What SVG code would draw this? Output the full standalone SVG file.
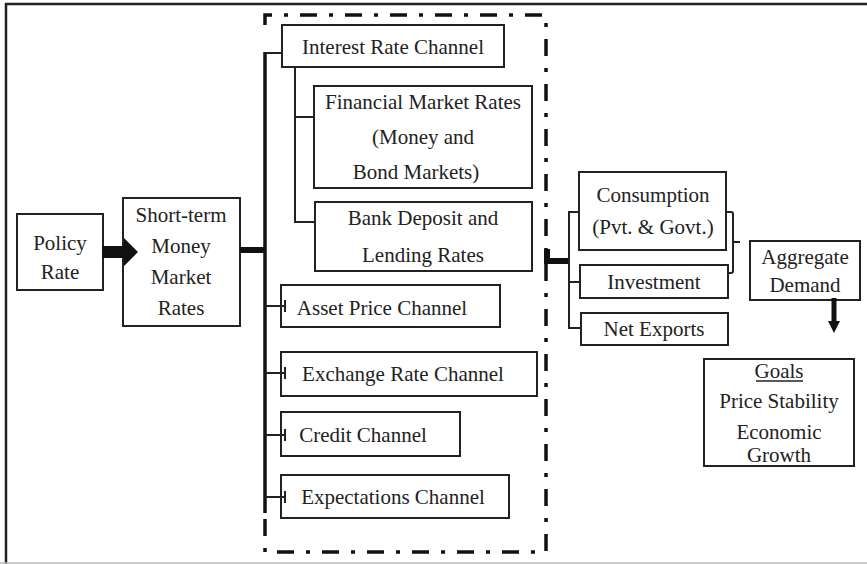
<svg xmlns="http://www.w3.org/2000/svg" width="867" height="564" viewBox="0 0 867 564">
  <style>
    .box { fill: #fff; stroke: #222; stroke-width: 2; }
    .ln { fill: none; stroke: #222; stroke-width: 2; }
    .bus { fill: none; stroke: #111; stroke-width: 3.5; }
    .thick { fill: none; stroke: #111; stroke-width: 6; }
    .dashdot { fill: none; stroke: #111; stroke-width: 3.5; stroke-dasharray: 17 12 4 12; }
  </style>
  <rect x="0" y="0" width="867" height="564" fill="#fff"/>
  <!-- outer frame -->
  <path d="M6 564 V4 H867" fill="none" stroke="#222" stroke-width="2.5"/>
  <line x1="0" y1="563" x2="867" y2="563" stroke="#bbb" stroke-width="1.5"/>

  <!-- transmission-channel enclosure -->
  <path class="dashdot" d="M265 25 V15 H546 V552 H265 V515"/>

  <g font-family="'Liberation Serif', 'Times New Roman', 'DejaVu Serif', serif" font-size="21" fill="#222" text-anchor="middle">
  <g id="policy-rate">
    <rect class="box" x="17" y="214" width="86" height="76"/>
    <text x="60" y="250">Policy</text>
    <text x="60" y="279">Rate</text>
  </g>

  <g id="money-market">
    <rect class="box" x="123" y="198" width="117" height="128"/>
    <text x="181" y="222">Short-term</text>
    <text x="181" y="253">Money</text>
    <text x="181" y="284">Market</text>
    <text x="181" y="315">Rates</text>
  </g>

  <g id="interest-rate">
    <rect class="box" x="282" y="25" width="222" height="42"/>
    <text x="393" y="54">Interest Rate Channel</text>
  </g>

  <g id="financial-market">
    <rect class="box" x="314" y="86" width="218" height="102"/>
    <text x="423" y="109">Financial Market Rates</text>
    <text x="423" y="144">(Money and</text>
    <text x="416" y="179">Bond Markets)</text>
  </g>

  <g id="bank-rates">
    <rect class="box" x="315" y="202" width="217" height="69"/>
    <text x="423" y="225">Bank Deposit and</text>
    <text x="423" y="262">Lending Rates</text>
  </g>

  <g id="asset-price">
    <rect class="box" x="281" y="285" width="219" height="42"/>
    <text x="382" y="315">Asset Price Channel</text>
  </g>

  <g id="exchange-rate">
    <rect class="box" x="281" y="352" width="256" height="44"/>
    <text x="403" y="381">Exchange Rate Channel</text>
  </g>

  <g id="credit">
    <rect class="box" x="281" y="412" width="179" height="44"/>
    <text x="363" y="442">Credit Channel</text>
  </g>

  <g id="expectations">
    <rect class="box" x="281" y="475" width="228" height="43"/>
    <text x="393" y="504">Expectations Channel</text>
  </g>

  <g id="consumption">
    <rect class="box" x="579" y="172" width="147" height="78"/>
    <text x="653" y="202">Consumption</text>
    <text x="653" y="234">(Pvt. &amp; Govt.)</text>
  </g>

  <g id="investment">
    <rect class="box" x="580" y="265" width="148" height="33"/>
    <text x="654" y="289">Investment</text>
  </g>

  <g id="net-exports">
    <rect class="box" x="581" y="313" width="147" height="32"/>
    <text x="654" y="336">Net Exports</text>
  </g>

  <g id="aggregate-demand">
    <rect class="box" x="750" y="241" width="110" height="59"/>
    <text x="805" y="264">Aggregate</text>
    <text x="805" y="292">Demand</text>
  </g>

  <g id="goals">
    <rect class="box" x="704" y="359" width="150" height="107"/>
    <text x="779" y="378">Goals</text>
    <line x1="756" y1="381" x2="803" y2="381" stroke="#222" stroke-width="1.3"/>
    <text x="779" y="408">Price Stability</text>
    <text x="779" y="439">Economic</text>
    <text x="779" y="462">Growth</text>
  </g>
  </g>

  <g id="connectors">
    <!-- policy rate to money market rates -->
    <path d="M102 246 H124 V238 L138 252 L124 266 V258 H102 Z" fill="#111"/>
    <line class="thick" x1="240" y1="250" x2="266" y2="250"/>
    <!-- main bus -->
    <line class="bus" x1="265" y1="52" x2="265" y2="513"/>
    <line class="ln" x1="265" y1="53" x2="283" y2="53"/>
    <line class="ln" x1="265" y1="306" x2="286" y2="306"/>
    <line class="ln" x1="285" y1="300" x2="285" y2="312"/>
    <line class="ln" x1="265" y1="373" x2="286" y2="373"/>
    <line class="ln" x1="285" y1="367" x2="285" y2="379"/>
    <line class="ln" x1="265" y1="435" x2="286" y2="435"/>
    <line class="ln" x1="285" y1="429" x2="285" y2="441"/>
    <line class="ln" x1="265" y1="497" x2="286" y2="497"/>
    <line class="ln" x1="285" y1="491" x2="285" y2="503"/>
    <!-- interest rate sub-branches -->
    <path class="ln" d="M295 67 V222 H315"/>
    <line class="ln" x1="295" y1="117" x2="314" y2="117"/>
    <!-- enclosure to demand components -->
    <path class="thick" d="M547 249 V261 H569"/>
    <path class="ln" d="M580 212 H569 V328 H581"/>
    <line class="ln" x1="569" y1="282" x2="581" y2="282"/>
    <!-- brace to aggregate demand -->
    <path class="ln" d="M727 212 H731 Q733 212 733 214 V271 Q733 273 731 273 H727" stroke-width="1.5"/>
    <line class="ln" x1="733" y1="242" x2="740" y2="242" stroke-width="1.5"/>
    <!-- aggregate demand to goals -->
    <line x1="834" y1="298" x2="834" y2="322" stroke="#111" stroke-width="5"/>
    <path d="M828 321 H840 L834 333 Z" fill="#111"/>
  </g>
</svg>
